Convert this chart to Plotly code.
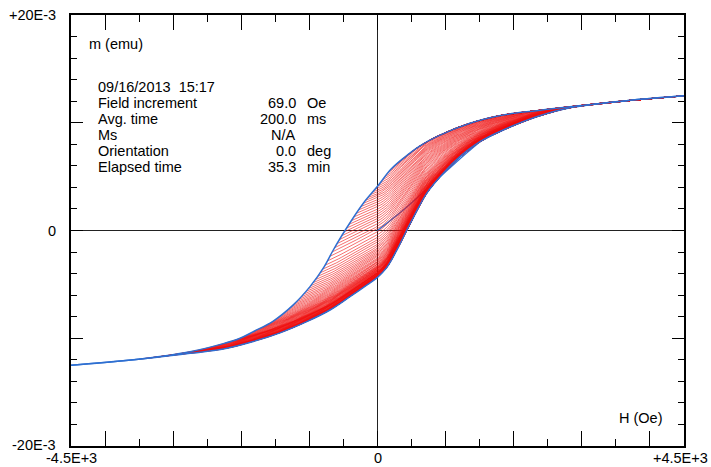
import numpy as np
import plotly.graph_objects as go

# ---- data (H in Oe, m in 1E-3 emu) ----
upper_H = [-4500, -3658, -2752, -2264, -2018, -1823, -1530, -1236, -991, -796, -649, -477, -208, 0, 200, 379, 624, 869, 1358, 1847, 2337, 2826, 3658, 4500]
upper_m = [-12.5, -12.05, -11.25, -10.5, -10.0, -9.39, -8.4, -6.9, -5.21, -3.5, -1.81, 0.0, 2.53, 4.1, 5.7, 6.7, 7.85, 8.71, 9.95, 10.72, 11.12, 11.49, 12.05, 12.5]

lower_H = [-4500, -3658, -2752, -2264, -1823, -1431, -1039, -697, -404, -158, 0, 135, 282, 428, 526, 722, 966, 1211, 1505, 1847, 2337, 2826, 3658, 4500]
lower_m = [-12.5, -12.05, -11.4, -11.0, -10.3, -9.5, -8.46, -7.38, -6.14, -5.06, -4.35, -3.45, -1.85, 0.0, 1.2, 3.45, 5.31, 6.85, 8.24, 9.33, 10.56, 11.4, 12.05, 12.5]

initial_H = [0, 379, 869, 1200, 1505]
initial_m = [0.0, 1.9, 4.69, 6.6, 8.24]

# reversal-field schedule of the first-order reversal curves (Oe)
reversal_start = -3500
reversal_step = 35
reversal_count = 158
field_increment = 40

x_tick_labels = ["-4.5E+3", "0", "+4.5E+3"]
y_tick_labels = ["-20E-3", "0", "+20E-3"]

info_labels = ["Field increment", "Avg. time", "Ms", "Orientation", "Elapsed time"]
info_values = ["69.0", "200.0", "N/A", "0.0", "35.3"]
info_units = ["Oe", "ms", "", "deg", "min"]
date_text = "09/16/2013\u00a0\u00a015:17"


def pchip(xk, yk, x):
    xk = np.asarray(xk, float); yk = np.asarray(yk, float); x = np.asarray(x, float)
    h = np.diff(xk); d = np.diff(yk) / h
    n = len(xk); m = np.zeros(n)
    for k in range(1, n - 1):
        if d[k - 1] * d[k] > 0:
            w1 = 2 * h[k] + h[k - 1]; w2 = h[k] + 2 * h[k - 1]
            m[k] = (w1 + w2) / (w1 / d[k - 1] + w2 / d[k])
    m[0] = d[0]; m[-1] = d[-1]
    idx = np.clip(np.searchsorted(xk, x) - 1, 0, n - 2)
    t = (x - xk[idx]) / h[idx]
    h00 = 2 * t**3 - 3 * t**2 + 1; h10 = t**3 - 2 * t**2 + t
    h01 = -2 * t**3 + 3 * t**2; h11 = t**3 - t**2
    return h00 * yk[idx] + h10 * h[idx] * m[idx] + h01 * yk[idx + 1] + h11 * h[idx] * m[idx + 1]


Ms = upper_m[-1]
Hmax = upper_H[-1]
fx, fy = [], []
for i in range(reversal_count):
    Hr = reversal_start + i * reversal_step
    H = np.append(np.arange(Hr, Hmax, field_increment), Hmax)
    L = pchip(lower_H, lower_m, H)
    U = pchip(upper_H, upper_m, H)
    Ur = pchip(upper_H, upper_m, [Hr])[0]
    Lr = pchip(lower_H, lower_m, [Hr])[0]
    m = L + (Ur - Lr) * (Ms - L) / (Ms - Lr)
    m = np.minimum(m, U)
    fx.extend(H.tolist()); fx.append(None)
    fy.extend(m.tolist()); fy.append(None)

blue = "#2e6fd1"
red = "rgba(238,14,14,0.85)"

fig = go.Figure()
fig.add_trace(go.Scatter(x=initial_H, y=initial_m, mode="lines", line=dict(color=blue, width=1.3, shape="spline"), hoverinfo="skip"))
fig.add_trace(go.Scatter(x=fx, y=fy, mode="lines", line=dict(color=red, width=0.7), hoverinfo="skip"))
fig.add_trace(go.Scatter(x=upper_H, y=upper_m, mode="lines", line=dict(color=blue, width=1.5, shape="spline", smoothing=1.0), hoverinfo="skip"))
fig.add_trace(go.Scatter(x=lower_H, y=lower_m, mode="lines", line=dict(color=blue, width=1.5, shape="spline", smoothing=1.0), hoverinfo="skip"))

L_, R_, T_, B_ = 71, 684, 15, 446
W_, Hh_ = R_ - L_, B_ - T_


def px(x):
    return (x - L_) / W_


def py(y):
    return (B_ - y) / Hh_


font = dict(family="Liberation Sans, Arial, sans-serif", size=14.5, color="black")
ann = []


def add(text, x, y, xa="left", ya="middle"):
    ann.append(dict(text=text, x=px(x), y=py(y), xref="paper", yref="paper",
                    xanchor=xa, yanchor=ya, showarrow=False, font=font))


add(y_tick_labels[2], 58, 15, "right")
add(y_tick_labels[1], 58, 230.5, "right")
add(y_tick_labels[0], 58, 445, "right")
add(x_tick_labels[0], 71, 458, "center")
add(x_tick_labels[1], 377.5, 458, "center")
add(x_tick_labels[2], 680, 458, "center")
add("H (Oe)", 641, 418, "center")
add("m (emu)", 87, 44)
add(date_text, 96, 87)
rows = [103, 119, 135, 151, 167.5]
for lab, val, unit, yy in zip(info_labels, info_values, info_units, rows):
    add(lab, 96, yy)
    add(val, 298, yy, "right")
    if unit:
        add(unit, 305, yy)

axis_common = dict(showline=True, linecolor="black", linewidth=2, mirror="allticks",
                   ticks="inside", tickcolor="black", tickwidth=1, showticklabels=False,
                   showgrid=False, zeroline=True, zerolinecolor="#222222", zerolinewidth=1)

fig.update_layout(
    width=711, height=467, showlegend=False,
    paper_bgcolor="white", plot_bgcolor="white",
    margin=dict(l=L_, r=711 - R_, t=T_, b=467 - B_),
    xaxis=dict(range=[-4500, 4500], tick0=0, dtick=1000, ticklen=15,
               minor=dict(tick0=0, dtick=500, ticklen=7, ticks="inside", tickcolor="black", showgrid=False),
               **axis_common),
    yaxis=dict(range=[-20, 20], tick0=0, dtick=10, ticklen=12,
               minor=dict(tick0=0, dtick=2, ticklen=6, ticks="inside", tickcolor="black", showgrid=False),
               **axis_common),
    annotations=ann,
)
fig.write_html("out.html", config={"displayModeBar": False},
               post_script="document.body.style.margin='0';document.body.style.overflow='hidden';")
